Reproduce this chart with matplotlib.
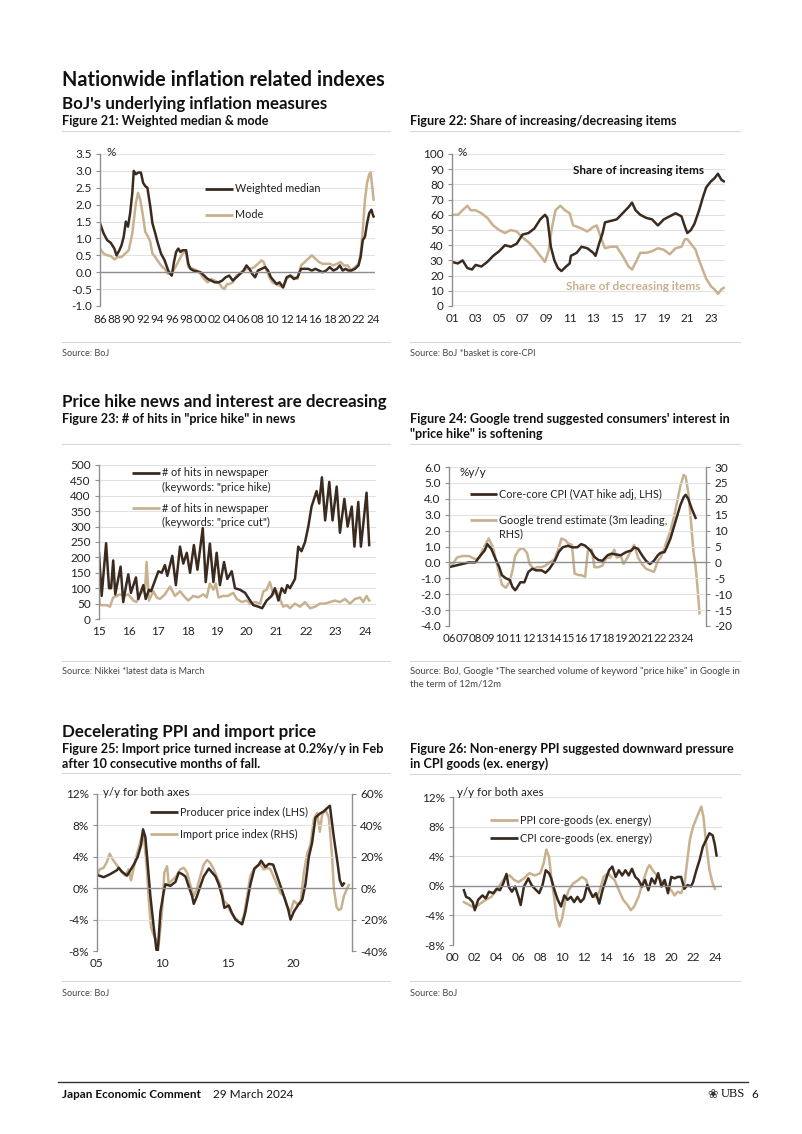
import matplotlib
matplotlib.use("Agg")
import matplotlib.pyplot as plt
from matplotlib.lines import Line2D
from matplotlib.ticker import FuncFormatter, MultipleLocator

plt.rcParams['font.family'] = ['Lato', 'DejaVu Sans']
plt.rcParams['axes.unicode_minus'] = False

DARK = '#3b2a1f'
LIGHT = '#c8b18e'
AXC = '#8f8f8f'
GRID = '#e2e2e2'
TXT = '#222222'

# ---------------- Figure 21 data ----------------
f21_wm_x = [1986.0, 1986.5, 1987.0, 1987.5, 1988.0, 1988.3, 1988.7, 1989.0, 1989.3, 1989.6, 1989.9, 1990.2,
            1990.5, 1990.7, 1991.0, 1991.3, 1991.7, 1992.0, 1992.3, 1992.6, 1993.0, 1993.3, 1993.7, 1994.0,
            1994.5, 1995.0, 1995.5, 1995.8, 1996.0, 1996.3, 1996.6, 1996.9, 1997.2, 1997.5, 1998.0, 1998.3,
            1998.6, 1999.0, 2000.0, 2000.5, 2001.0, 2001.5, 2002.0, 2002.5, 2003.0, 2003.5, 2004.0, 2004.5,
            2005.0, 2005.5, 2006.0, 2006.4, 2006.8, 2007.2, 2007.6, 2008.0, 2008.5, 2009.0, 2009.4, 2009.8,
            2010.2, 2010.6, 2011.0, 2011.5, 2012.0, 2012.5, 2013.0, 2013.5, 2014.0, 2014.5, 2015.0, 2015.5,
            2016.0, 2016.5, 2017.0, 2017.5, 2018.0, 2018.5, 2019.0, 2019.4, 2019.8, 2020.2, 2020.6, 2021.0,
            2021.5, 2022.0, 2022.3, 2022.6, 2022.9, 2023.2, 2023.5, 2023.8, 2024.0, 2024.1]
f21_wm_y = [1.45, 1.15, 0.95, 0.87, 0.7, 0.5, 0.65, 0.8, 1.05, 1.5, 1.35, 1.75,
            2.35, 3.0, 2.9, 2.95, 2.95, 2.65, 2.55, 2.5, 1.95, 1.45, 1.15, 0.9,
            0.55, 0.35, 0.05, -0.05, -0.1, 0.3, 0.6, 0.7, 0.6, 0.65, 0.65, 0.25,
            0.1, 0.05, 0.0, -0.1, -0.2, -0.25, -0.3, -0.3, -0.25, -0.15, -0.1, -0.25,
            -0.15, -0.05, 0.05, 0.2, 0.1, -0.05, -0.15, 0.05, 0.1, 0.15, 0.05, -0.15,
            -0.25, -0.35, -0.3, -0.45, -0.15, -0.1, -0.2, -0.15, 0.1, 0.1, 0.1, 0.05,
            0.1, 0.05, 0.0, 0.05, 0.15, 0.05, 0.1, 0.2, 0.05, 0.1, 0.05, 0.05,
            0.1, 0.2, 0.45, 0.95, 1.05, 1.45, 1.75, 1.85, 1.7, 1.65]
f21_mode_x = [1986.0, 1986.5, 1987.0, 1987.5, 1988.0, 1988.5, 1989.0, 1989.5, 1990.0, 1990.5, 1991.0, 1991.3,
              1991.6, 1992.0, 1992.3, 1992.7, 1993.0, 1993.3, 1993.7, 1994.0, 1994.5, 1995.0, 1995.5, 1996.0,
              1996.5, 1997.0, 1997.5, 1997.8, 1998.0, 1998.3, 1999.0, 1999.5, 2000.0, 2000.5, 2001.0, 2001.5,
              2002.0, 2002.5, 2003.0, 2003.3, 2003.7, 2004.0, 2004.5, 2005.0, 2005.5, 2006.0, 2006.5, 2007.0,
              2007.5, 2008.0, 2008.5, 2008.8, 2009.2, 2009.6, 2010.0, 2010.5, 2011.0, 2011.5, 2012.0, 2012.5,
              2013.0, 2013.5, 2014.0, 2014.5, 2015.0, 2015.5, 2016.0, 2016.5, 2017.0, 2017.5, 2018.0, 2018.5,
              2019.0, 2019.5, 2020.0, 2020.5, 2021.0, 2021.5, 2022.0, 2022.3, 2022.6, 2022.9, 2023.2, 2023.5,
              2023.7, 2023.9, 2024.1]
f21_mode_y = [0.7, 0.55, 0.5, 0.48, 0.38, 0.45, 0.45, 0.55, 0.65, 1.15, 2.05, 2.35,
              2.15, 1.65, 1.2, 1.05, 0.9, 0.55, 0.45, 0.35, 0.2, 0.1, -0.05, -0.03,
              0.15, 0.35, 0.55, 0.6, 0.55, 0.15, 0.1, 0.05, -0.05, -0.2, -0.3, -0.2,
              -0.25, -0.3, -0.45, -0.5, -0.35, -0.35, -0.3, -0.1, -0.05, 0.05, 0.1, 0.1,
              0.15, 0.25, 0.35, 0.3, 0.05, -0.15, -0.3, -0.35, -0.4, -0.45, -0.2, -0.1,
              -0.15, -0.2, 0.2, 0.3, 0.4, 0.5, 0.4, 0.3, 0.25, 0.25, 0.25, 0.2,
              0.25, 0.3, 0.2, 0.2, 0.05, 0.15, 0.25, 0.55, 1.25, 2.15, 2.65, 2.9,
              2.95, 2.55, 2.15]

# ---------------- Figure 22 data ----------------
f22_inc_x = [2001.0, 2001.5, 2001.9, 2002.3, 2002.7, 2003.0, 2003.5, 2004.0, 2004.5, 2005.0, 2005.5, 2006.0,
             2006.5, 2007.0, 2007.5, 2008.0, 2008.5, 2008.9, 2009.1, 2009.4, 2009.7, 2010.0, 2010.3, 2010.7,
             2011.0, 2011.1, 2011.6, 2012.0, 2012.5, 2013.0, 2013.2, 2013.5, 2013.8, 2014.0, 2014.5, 2015.0,
             2015.5, 2016.0, 2016.3, 2016.6, 2017.0, 2017.5, 2018.0, 2018.5, 2019.0, 2019.5, 2020.0, 2020.5,
             2020.8, 2021.0, 2021.3, 2021.6, 2022.0, 2022.3, 2022.6, 2023.0, 2023.3, 2023.6, 2023.9, 2024.1]
f22_inc_y = [29, 28, 30, 25, 24, 27, 26, 29, 33, 36, 40, 39,
             41, 47, 48, 51, 57, 60, 58, 39, 30, 25, 23, 26,
             28, 33, 35, 39, 38, 35, 33, 41, 48, 55, 56, 57,
             61, 65, 68, 63, 60, 58, 57, 53, 57, 59, 61, 59,
             52, 48, 50, 54, 63, 71, 78, 82, 84, 87, 83, 82]
f22_dec_x = [2001.0, 2001.5, 2001.9, 2002.3, 2002.6, 2003.0, 2003.5, 2004.0, 2004.5, 2005.0, 2005.5, 2006.0,
             2006.5, 2007.0, 2007.5, 2008.0, 2008.5, 2008.9, 2009.2, 2009.5, 2009.8, 2010.2, 2010.6, 2011.0,
             2011.3, 2011.7, 2012.0, 2012.5, 2013.0, 2013.3, 2013.7, 2014.0, 2014.5, 2015.0, 2015.5, 2016.0,
             2016.3, 2016.7, 2017.0, 2017.5, 2018.0, 2018.5, 2019.0, 2019.5, 2020.0, 2020.5, 2020.8, 2021.0,
             2021.3, 2021.7, 2022.0, 2022.3, 2022.6, 2023.0, 2023.3, 2023.6, 2023.9, 2024.1]
f22_dec_y = [60, 60, 63, 66, 63, 63, 61, 58, 53, 50, 48, 50,
             49, 45, 42, 38, 33, 29, 36, 52, 63, 66, 63, 61,
             53, 52, 51, 49, 52, 53, 44, 38, 39, 39, 33, 26,
             24, 30, 35, 35, 36, 38, 37, 34, 38, 39, 44, 44,
             41, 37, 30, 24, 18, 13, 11, 8, 11, 12]

# ---------------- Figure 23 data ----------------
f23_hike_x = [2015.00, 2015.09, 2015.24, 2015.34, 2015.41, 2015.48, 2015.55, 2015.73, 2015.82, 2015.90, 2015.99,
              2016.08, 2016.25, 2016.33, 2016.50, 2016.58, 2016.69, 2016.76, 2017.01, 2017.12, 2017.23, 2017.31,
              2017.48, 2017.60, 2017.74, 2017.85, 2017.97, 2018.08, 2018.21, 2018.33, 2018.51, 2018.61, 2018.75,
              2018.87, 2018.98, 2019.09, 2019.23, 2019.34, 2019.49, 2019.60, 2019.77, 2019.94, 2020.11, 2020.22,
              2020.39, 2020.52, 2020.67, 2020.84, 2020.95, 2021.07, 2021.18, 2021.29, 2021.37, 2021.46, 2021.63,
              2021.74, 2021.85, 2021.97, 2022.08, 2022.19, 2022.36, 2022.45, 2022.54, 2022.65, 2022.79, 2022.90,
              2023.04, 2023.15, 2023.30, 2023.41, 2023.55, 2023.64, 2023.77, 2023.86, 2024.05, 2024.14]
f23_hike_y = [214, 75, 246, 100, 100, 190, 80, 170, 55, 100, 145,
              85, 135, 65, 110, 65, 95, 90, 155, 150, 175, 140,
              205, 110, 235, 180, 215, 150, 240, 160, 295, 120, 245,
              120, 215, 110, 185, 130, 155, 100, 95, 85, 60, 45,
              40, 35, 60, 75, 100, 60, 100, 85, 110, 100, 130,
              235, 220, 250, 300, 365, 415, 375, 460, 320, 445, 320,
              430, 280, 390, 300, 365, 235, 380, 235, 410, 240]
f23_cut_x = [2015.00, 2015.03, 2015.15, 2015.26, 2015.37, 2015.48, 2015.60, 2015.71, 2015.82, 2015.99, 2016.16,
             2016.27, 2016.39, 2016.56, 2016.61, 2016.69, 2016.84, 2016.95, 2017.06, 2017.23, 2017.40, 2017.57,
             2017.74, 2017.91, 2018.02, 2018.19, 2018.36, 2018.53, 2018.64, 2018.75, 2018.87, 2018.95, 2019.04,
             2019.21, 2019.37, 2019.54, 2019.66, 2019.83, 2019.99, 2020.11, 2020.28, 2020.45, 2020.56, 2020.67,
             2020.78, 2020.90, 2021.01, 2021.12, 2021.23, 2021.35, 2021.46, 2021.63, 2021.80, 2021.97, 2022.14,
             2022.31, 2022.47, 2022.64, 2022.81, 2022.98, 2023.15, 2023.32, 2023.49, 2023.66, 2023.83, 2023.94,
             2024.05, 2024.14]
f23_cut_y = [70, 45, 45, 45, 40, 70, 75, 80, 75, 80, 60,
             55, 80, 100, 185, 60, 90, 70, 65, 80, 105, 75,
             90, 70, 60, 75, 70, 80, 70, 115, 95, 115, 70,
             75, 75, 85, 65, 55, 60, 50, 55, 50, 90, 95,
             120, 80, 90, 65, 40, 45, 35, 50, 40, 55, 35,
             40, 50, 50, 55, 60, 55, 65, 50, 65, 70, 55,
             75, 60]

# ---------------- Figure 24 data ----------------
f24_cpi_x = [2006.0, 2006.5, 2007.0, 2007.5, 2008.0, 2008.3, 2008.7, 2008.9, 2009.2, 2009.5, 2009.8, 2010.0,
             2010.3, 2010.6, 2010.8, 2011.0, 2011.1, 2011.4, 2011.7, 2012.0, 2012.3, 2012.6, 2013.0, 2013.3,
             2013.6, 2014.0, 2014.3, 2014.6, 2015.0, 2015.3, 2015.7, 2016.0, 2016.3, 2016.7, 2017.0, 2017.3,
             2017.6, 2018.0, 2018.3, 2018.6, 2019.0, 2019.4, 2019.8, 2020.0, 2020.3, 2020.6, 2020.9, 2021.2,
             2021.5, 2021.8, 2022.0, 2022.3, 2022.5, 2022.75, 2023.0, 2023.25, 2023.5, 2023.75, 2023.9, 2024.1,
             2024.35, 2024.5, 2024.65]
f24_cpi_y = [-0.3, -0.2, -0.1, 0.0, 0.0, 0.35, 0.75, 1.15, 0.85, 0.25, -0.3, -0.8,
             -1.0, -1.1, -1.55, -1.75, -1.65, -1.25, -1.25, -0.6, -0.4, -0.5, -0.5, -0.65,
             -0.4, 0.1, 0.65, 0.95, 1.05, 0.95, 0.95, 1.15, 1.05, 0.75, 0.35, 0.15,
             0.1, 0.45, 0.55, 0.5, 0.45, 0.65, 0.75, 0.95, 0.85, 0.45, 0.1, -0.1,
             0.1, 0.45, 0.6, 0.65, 1.0, 1.5, 2.2, 2.9, 3.6, 4.1, 4.25, 4.0,
             3.4, 3.1, 2.8]
f24_ggl_x = [2006.0, 2006.3, 2006.6, 2007.0, 2007.5, 2008.0, 2008.3, 2008.6, 2009.0, 2009.3, 2009.6, 2009.8,
             2010.0, 2010.3, 2010.6, 2010.8, 2011.0, 2011.3, 2011.6, 2011.9, 2012.1, 2012.4, 2012.7, 2013.0,
             2013.3, 2013.6, 2014.0, 2014.3, 2014.5, 2014.8, 2015.0, 2015.3, 2015.5, 2015.8, 2016.0, 2016.3,
             2016.5, 2016.8, 2017.0, 2017.3, 2017.6, 2017.9, 2018.2, 2018.5, 2018.7, 2019.0, 2019.2, 2019.5,
             2019.8, 2020.0, 2020.3, 2020.6, 2020.9, 2021.2, 2021.5, 2021.8, 2022.0, 2022.25, 2022.5, 2022.75,
             2023.0, 2023.25, 2023.5, 2023.75, 2023.9, 2024.1, 2024.3, 2024.5, 2024.65, 2024.8, 2024.95]
f24_ggl_y = [0, -0.5, 1.5, 2, 2, 1, 1.5, 4.5, 7.5, 5, 0, -3.5,
             -7, -8, -6, -2.5, 2, 4, 4.5, 3, -0.5, -2, -1.5, -1.5,
             -1, 0, 1, 4.5, 7.5, 7, 6, 5.5, -3.5, -4, -4, -4.5,
             3.5, 4, -1.5, -1.5, -1, 1.5, 1.5, 4, 1.5, 2, -0.5, 1.5,
             4, 5.5, 1.5, -0.5, -2, -2.5, -3, 0.5, 1.5, 4, 7, 10,
             14, 19, 24, 27.5, 27, 22, 13, 3, -1, -8, -16]

# ---------------- Figure 25 data ----------------
f25_ppi_x = [2005.00, 2005.51, 2006.02, 2006.53, 2006.66, 2006.91, 2007.30, 2007.81, 2008.11, 2008.37, 2008.52,
             2008.70, 2008.88, 2009.08, 2009.34, 2009.54, 2009.64, 2009.85, 2010.10, 2010.23, 2010.61, 2011.00,
             2011.25, 2011.51, 2011.76, 2012.02, 2012.27, 2012.40, 2012.65, 2012.91, 2013.16, 2013.55, 2013.80,
             2014.06, 2014.31, 2014.57, 2014.74, 2015.08, 2015.33, 2015.59, 2015.84, 2016.10, 2016.35, 2016.73,
             2017.04, 2017.37, 2017.55, 2017.88, 2018.14, 2018.47, 2018.78, 2019.03, 2019.29, 2019.59, 2019.80,
             2020.05, 2020.43, 2020.69, 2020.94, 2021.20, 2021.45, 2021.71, 2022.04, 2022.35, 2022.60, 2022.81,
             2023.11, 2023.37, 2023.57, 2023.75, 2023.88]
f25_ppi_y = [1.7, 1.4, 1.8, 2.3, 2.6, 2.1, 1.6, 3.0, 4.0, 5.5, 7.5,
             6.5, 3.0, -1.0, -5.0, -7.8, -8.2, -3.0, -0.5, 0.5, 0.3, 0.8,
             2.0, 1.8, 1.5, 0.2, -1.0, -2.0, -1.0, 0.3, 1.5, 2.5, 2.0,
             1.5, 0.5, -1.0, -2.5, -2.2, -3.2, -4.0, -4.3, -4.6, -3.0, 0.5,
             2.5, 3.0, 3.5, 2.7, 3.1, 3.0, 1.5, 0.3, -1.0, -2.5, -4.0,
             -3.0, -2.0, -1.5, 0.5, 4.0, 5.8, 9.0, 9.5, 9.8, 10.2, 10.5,
             6.5, 3.5, 1.0, 0.3, 0.6]
f25_imp_x = [2005.00, 2005.20, 2005.51, 2005.77, 2005.97, 2006.22, 2006.40, 2006.66, 2006.91, 2007.17, 2007.42,
             2007.60, 2007.81, 2008.06, 2008.27, 2008.47, 2008.62, 2008.83, 2008.98, 2009.13, 2009.34, 2009.54,
             2009.72, 2009.97, 2010.15, 2010.36, 2010.48, 2010.74, 2011.00, 2011.38, 2011.63, 2011.89, 2012.14,
             2012.40, 2012.65, 2012.91, 2013.16, 2013.42, 2013.67, 2013.93, 2014.18, 2014.44, 2014.69, 2014.95,
             2015.20, 2015.46, 2015.71, 2015.97, 2016.22, 2016.48, 2016.73, 2016.99, 2017.24, 2017.50, 2017.76,
             2018.01, 2018.27, 2018.52, 2018.78, 2019.03, 2019.29, 2019.54, 2019.80, 2020.05, 2020.31, 2020.56,
             2020.82, 2021.07, 2021.33, 2021.58, 2021.84, 2022.04, 2022.22, 2022.47, 2022.73, 2022.98, 2023.11,
             2023.32, 2023.49, 2023.67, 2023.88, 2024.13, 2024.26]
f25_imp_y = [8, 12, 13, 17, 22, 18, 16, 13, 10, 8, 12,
             5, 13, 22, 28, 35, 30, 10, -10, -25, -30, -33,
             -36, -15, 10, 14, 3, 5, 7, 12, 13, 10, 2,
             -5, 0, 8, 15, 18, 16, 12, 7, 2, -8, -10,
             -15, -18, -20, -22, -18, -5, 8, 12, 14, 15, 12,
             13, 12, 7, 2, -3, -5, -12, -15, -8, -10, -10,
             10, 22, 28, 44, 48, 36, 47, 50, 45, 20, 0,
             -12, -14, -13, -5, 0, 2]

# ---------------- Figure 26 data ----------------
f26_ppi_x = [2001.0, 2001.5, 2002.0, 2002.5, 2003.0, 2003.5, 2004.0, 2004.4, 2004.8, 2005.2, 2005.6, 2006.0,
             2006.5, 2007.0, 2007.5, 2008.0, 2008.3, 2008.55, 2008.8, 2009.0, 2009.3, 2009.5, 2009.75, 2010.0,
             2010.3, 2010.6, 2011.0, 2011.5, 2011.8, 2012.2, 2012.5, 2012.8, 2013.2, 2013.5, 2013.8, 2014.2,
             2014.5, 2014.8, 2015.2, 2015.6, 2016.0, 2016.3, 2016.6, 2017.0, 2017.4, 2017.8, 2018.0, 2018.4,
             2018.8, 2019.2, 2019.6, 2020.0, 2020.3, 2020.6, 2020.9, 2021.2, 2021.4, 2021.7, 2022.0, 2022.3,
             2022.6, 2022.75, 2022.95, 2023.2, 2023.5, 2023.8, 2024.0]
f26_ppi_y = [-2.2, -2.6, -3.0, -2.4, -1.9, -1.5, -0.6, 0.3, 1.2, 1.4, 0.8, 0.5,
             1.0, 1.7, 1.4, 1.7, 3.0, 4.9, 3.9, 1.2, -1.9, -4.2, -5.5, -4.4,
             -1.9, -0.6, 0.3, 0.8, 1.2, 0.8, -0.6, -1.5, -1.5, -0.4, 1.2, 1.7,
             1.2, 0.8, -0.6, -1.9, -2.6, -3.3, -2.8, -1.5, 0.5, 2.3, 2.8, 1.9,
             1.2, 0.5, -0.1, -0.6, -1.3, -0.8, -1.0, 0.1, 2.6, 6.2, 8.0, 9.1,
             10.2, 10.7, 9.3, 5.7, 2.1, 0.3, -0.4]
f26_cpi_x = [2001.0, 2001.2, 2001.5, 2001.8, 2002.0, 2002.3, 2002.7, 2003.0, 2003.3, 2003.7, 2004.0, 2004.3,
             2004.6, 2004.9, 2005.1, 2005.4, 2005.7, 2006.0, 2006.2, 2006.5, 2006.9, 2007.2, 2007.5, 2007.9,
             2008.2, 2008.5, 2008.8, 2009.0, 2009.3, 2009.6, 2009.9, 2010.2, 2010.5, 2010.8, 2011.1, 2011.4,
             2011.7, 2012.0, 2012.3, 2012.5, 2012.8, 2013.1, 2013.4, 2013.7, 2014.0, 2014.3, 2014.6, 2014.9,
             2015.2, 2015.5, 2015.8, 2016.1, 2016.4, 2016.7, 2017.0, 2017.3, 2017.6, 2017.9, 2018.2, 2018.5,
             2018.8, 2019.1, 2019.4, 2019.7, 2020.0, 2020.3, 2020.6, 2020.9, 2021.2, 2021.5, 2021.8, 2022.0,
             2022.3, 2022.6, 2022.9, 2023.2, 2023.5, 2023.8, 2024.0, 2024.15]
f26_cpi_y = [-0.6, -1.5, -1.7, -2.2, -3.3, -1.9, -1.3, -1.7, -0.8, -1.0, -0.4, -0.6,
             0.3, 1.6, -0.1, -0.8, -0.1, -1.5, -2.6, -0.1, 1.0, 0.1, -0.4, -1.0,
             0.1, 2.1, 1.7, 1.0, -0.6, -1.9, -2.8, -1.3, -1.9, -1.5, -2.2, -1.5,
             -2.2, -1.7, 0.1, -0.6, -1.5, -1.0, -2.4, -0.6, 0.8, 2.1, 2.6, 1.2,
             2.1, 1.4, 2.1, 1.4, 2.3, 1.2, 0.8, -0.1, 0.8, -0.6, 1.0, 0.3,
             1.7, -0.1, 0.8, -1.0, 1.2, 1.0, 1.2, 1.2, -0.4, 0.1, -0.1, 0.5,
             2.1, 3.5, 5.3, 6.2, 7.1, 6.8, 5.5, 4.1]

# ---------------- layout helpers ----------------
W, H = 802, 1134
fig = plt.figure(figsize=(W / 100, H / 100), dpi=100)
fig.patch.set_facecolor('white')

FIGT = 9.1   # figure-title size
LEG = 7.8    # legend size
SRC = 6.6    # source size


def fx(x):
    return x / W


def fy(y):
    return 1 - y / H


def text(x, y, s, size=8.5, weight='normal', color=TXT, ha='left', va='center', **kw):
    fig.text(fx(x), fy(y), s, fontsize=size, fontweight=weight, color=color, ha=ha, va=va, **kw)


def hline(x0, x1, y, color='#d8d8d8', lw=0.8):
    fig.add_artist(Line2D([fx(x0), fx(x1)], [fy(y), fy(y)], color=color, lw=lw))


def legline(x0, x1, y, color):
    fig.add_artist(Line2D([fx(x0), fx(x1)], [fy(y), fy(y)], color=color, lw=2.0, solid_capstyle='butt'))


def make_ax(left, top, right, bottom):
    ax = fig.add_axes([fx(left), fy(bottom), (right - left) / W, (bottom - top) / H])
    ax.set_facecolor('none')
    for s in ['top', 'right', 'bottom']:
        ax.spines[s].set_visible(False)
    ax.spines['left'].set_color(AXC)
    ax.spines['left'].set_linewidth(1.0)
    ax.yaxis.grid(True, color=GRID, lw=0.8)
    ax.set_axisbelow(True)
    ax.tick_params(axis='y', length=3, color=AXC, labelsize=8.5, labelcolor=TXT, pad=3)
    ax.tick_params(axis='x', length=0, labelsize=8.5, labelcolor=TXT, pad=5)
    return ax


def style_right(ax2):
    for s in ['top', 'left', 'bottom']:
        ax2.spines[s].set_visible(False)
    ax2.spines['right'].set_color(AXC)
    ax2.spines['right'].set_linewidth(1.0)
    ax2.tick_params(axis='y', length=3, color=AXC, labelsize=8.5, labelcolor=TXT, pad=3)


yy = FuncFormatter(lambda v, p: f"{int(round(v)) % 100:02d}")

# ---------------- Titles ----------------
text(62, 80, "Nationwide inflation related indexes", size=14.3, weight='bold', color='#111111')
text(62, 104, "BoJ's underlying inflation measures", size=12.2, weight='bold', color='#111111')
text(62, 121, "Figure 21: Weighted median & mode", size=FIGT, weight='bold', color='#111111')
text(410, 121, "Figure 22: Share of increasing/decreasing items", size=FIGT, weight='bold', color='#111111')
hline(62, 390, 131)
hline(410, 740, 131)
hline(62, 390, 342)
hline(410, 740, 342)
text(62, 353, "Source: BoJ", size=SRC, color='#444444')
text(410, 353, "Source: BoJ *basket is core-CPI", size=SRC, color='#444444')

text(62, 402, "Price hike news and interest are decreasing", size=12.2, weight='bold', color='#111111')
text(62, 419, 'Figure 23: # of hits in "price hike" in news', size=FIGT, weight='bold', color='#111111')
text(410, 419, "Figure 24: Google trend suggested consumers' interest in", size=FIGT, weight='bold', color='#111111')
text(410, 434, '"price hike" is softening', size=FIGT, weight='bold', color='#111111')
hline(62, 390, 444)
hline(410, 740, 444)
hline(62, 390, 661)
hline(410, 740, 661)
text(62, 672, "Source: Nikkei *latest data is March", size=SRC, color='#444444')
text(410, 672, 'Source: BoJ, Google *The searched volume of keyword "price hike" in Google in', size=6.8, color='#444444')
text(410, 684, "the term of 12m/12m", size=6.8, color='#444444')

text(62, 732, "Decelerating PPI and import price", size=12.2, weight='bold', color='#111111')
text(62, 749, "Figure 25: Import price turned increase at 0.2%y/y in Feb", size=FIGT, weight='bold', color='#111111')
text(62, 764, "after 10 consecutive months of fall.", size=FIGT, weight='bold', color='#111111')
text(410, 749, "Figure 26: Non-energy PPI suggested downward pressure", size=FIGT, weight='bold', color='#111111')
text(410, 764, "in CPI goods (ex. energy)", size=FIGT, weight='bold', color='#111111')
hline(62, 390, 773)
hline(410, 740, 774)
hline(62, 390, 981)
hline(410, 740, 981)
text(62, 993, "Source: BoJ", size=SRC, color='#444444')
text(410, 993, "Source: BoJ", size=SRC, color='#444444')

# footer
hline(58, 748, 1082, color='#333333', lw=1.0)
text(62, 1094, "Japan Economic Comment", size=8.5, weight='bold', color='#111111')
text(213, 1094, "29 March 2024", size=8.5, color='#111111')
text(713, 1094, "\u2740", size=9, color='#333333', ha='center', family=['DejaVu Sans'])
text(721, 1094, "UBS", size=9, color='#111111', family=['Liberation Serif'])
text(751, 1094, "6", size=8.5, color='#111111')

# ---------------- Figure 21 ----------------
ax = make_ax(100, 154, 375, 306)
ax.plot(f21_mode_x, f21_mode_y, color=LIGHT, lw=1.8)
ax.plot(f21_wm_x, f21_wm_y, color=DARK, lw=1.8)
ax.axhline(0, color=AXC, lw=1.0)
ax.set_ylim(-1.0, 3.5)
ax.yaxis.set_major_locator(MultipleLocator(0.5))
ax.yaxis.set_major_formatter(FuncFormatter(lambda v, p: f"{v:.1f}"))
ax.set_xlim(1986, 2024.3)
ax.set_xticks(list(range(1986, 2025, 2)))
ax.xaxis.set_major_formatter(yy)
ax.tick_params(axis='x', pad=6)
text(106, 152, "%", size=8.5)
legline(205, 233, 189, DARK)
text(235, 189, "Weighted median", size=LEG)
legline(205, 233, 215, LIGHT)
text(235, 215, "Mode", size=LEG)

# ---------------- Figure 22 ----------------
ax = make_ax(452, 154, 725, 306)
ax.plot(f22_dec_x, f22_dec_y, color=LIGHT, lw=1.8)
ax.plot(f22_inc_x, f22_inc_y, color=DARK, lw=1.8)
ax.axhline(0, color=AXC, lw=1.0)
ax.set_ylim(0, 100)
ax.yaxis.set_major_locator(MultipleLocator(10))
ax.set_xlim(2001, 2024.2)
ax.set_xticks(list(range(2001, 2024, 2)))
ax.xaxis.set_major_formatter(yy)
text(458, 152, "%", size=8.5)
text(573, 171, "Share of increasing items", size=8.5, weight='bold', color='#111111')
text(566, 287, "Share of decreasing items", size=8.5, weight='bold', color=LIGHT)

# ---------------- Figure 23 ----------------
ax = make_ax(99, 465, 376, 619)
ax.plot(f23_cut_x, f23_cut_y, color=LIGHT, lw=1.8)
ax.plot(f23_hike_x, f23_hike_y, color=DARK, lw=1.8)
ax.axhline(0, color=AXC, lw=1.0)
ax.set_ylim(0, 500)
ax.yaxis.set_major_locator(MultipleLocator(50))
ax.set_xlim(2015, 2024.37)
ax.set_xticks(list(range(2015, 2025)))
ax.xaxis.set_major_formatter(yy)
legline(132, 160, 473, DARK)
text(162, 473, "# of hits in newspaper", size=LEG)
text(162, 487, '(keywords: "price hike)', size=LEG)
legline(132, 160, 508, LIGHT)
text(162, 508, "# of hits in newspaper", size=LEG)
text(162, 522, '(keywords: "price cut")', size=LEG)

# ---------------- Figure 24 ----------------
ax = make_ax(449, 467, 706, 626)
ax2 = ax.twinx()
style_right(ax2)
ax2.plot(f24_ggl_x, f24_ggl_y, color=LIGHT, lw=1.8)
ax2.set_ylim(-20, 30)
ax2.yaxis.set_major_locator(MultipleLocator(5))
ax.set_zorder(ax2.get_zorder() + 1)
ax.patch.set_visible(False)
ax.plot(f24_cpi_x, f24_cpi_y, color=DARK, lw=1.8)
ax.axhline(0, color=AXC, lw=1.0)
ax.set_ylim(-4, 6)
ax.yaxis.set_major_locator(MultipleLocator(1))
ax.yaxis.set_major_formatter(FuncFormatter(lambda v, p: f"{v:.1f}"))
ax.set_xlim(2006, 2025.44)
ax2.set_xlim(2006, 2025.44)
ax.set_xticks(list(range(2006, 2025)))
ax.xaxis.set_major_formatter(yy)
ax.tick_params(axis='x', labelsize=8.3)
text(459, 472, "%y/y", size=8.5)
legline(470, 497, 494, DARK)
text(499, 494, "Core-core CPI (VAT hike adj, LHS)", size=LEG)
legline(470, 497, 520, LIGHT)
text(499, 520, "Google trend estimate (3m leading,", size=LEG)
text(499, 534, "RHS)", size=LEG)

# ---------------- Figure 25 ----------------
ax = make_ax(97, 794, 352, 951)
ax2 = ax.twinx()
style_right(ax2)
ax2.plot(f25_imp_x, f25_imp_y, color=LIGHT, lw=1.8)
ax2.set_ylim(-40, 60)
ax2.yaxis.set_major_locator(MultipleLocator(20))
ax2.yaxis.set_major_formatter(FuncFormatter(lambda v, p: f"{int(round(v))}%"))
ax.set_zorder(ax2.get_zorder() + 1)
ax.patch.set_visible(False)
ax.plot(f25_ppi_x, f25_ppi_y, color=DARK, lw=1.8)
ax.axhline(0, color=AXC, lw=1.0)
ax.set_ylim(-8, 12)
ax.yaxis.set_major_locator(MultipleLocator(4))
ax.yaxis.set_major_formatter(FuncFormatter(lambda v, p: f"{int(round(v))}%"))
ax.set_xlim(2005, 2024.5)
ax2.set_xlim(2005, 2024.5)
ax.set_xticks([2005, 2010, 2015, 2020])
ax.xaxis.set_major_formatter(yy)
text(103, 793, "y/y for both axes", size=8.3)
legline(150, 178, 812, DARK)
text(180, 812, "Producer price index (LHS)", size=LEG)
legline(150, 178, 834, LIGHT)
text(180, 834, "Import price index (RHS)", size=LEG)

# ---------------- Figure 26 ----------------
ax = make_ax(453, 797, 722, 945)
ax.plot(f26_ppi_x, f26_ppi_y, color=LIGHT, lw=1.8)
ax.plot(f26_cpi_x, f26_cpi_y, color=DARK, lw=1.8)
ax.axhline(0, color=AXC, lw=1.0)
ax.set_ylim(-8, 12)
ax.yaxis.set_major_locator(MultipleLocator(4))
ax.yaxis.set_major_formatter(FuncFormatter(lambda v, p: f"{int(round(v))}%"))
ax.set_xlim(2000, 2024.65)
ax.set_xticks(list(range(2000, 2025, 2)))
ax.xaxis.set_major_formatter(yy)
text(457, 792, "y/y for both axes", size=8.3)
legline(490, 518, 820, LIGHT)
text(520, 820, "PPI core-goods (ex. energy)", size=LEG)
legline(490, 518, 838, DARK)
text(520, 838, "CPI core-goods (ex. energy)", size=LEG)

fig.savefig("out.png", dpi=100, facecolor='white')
